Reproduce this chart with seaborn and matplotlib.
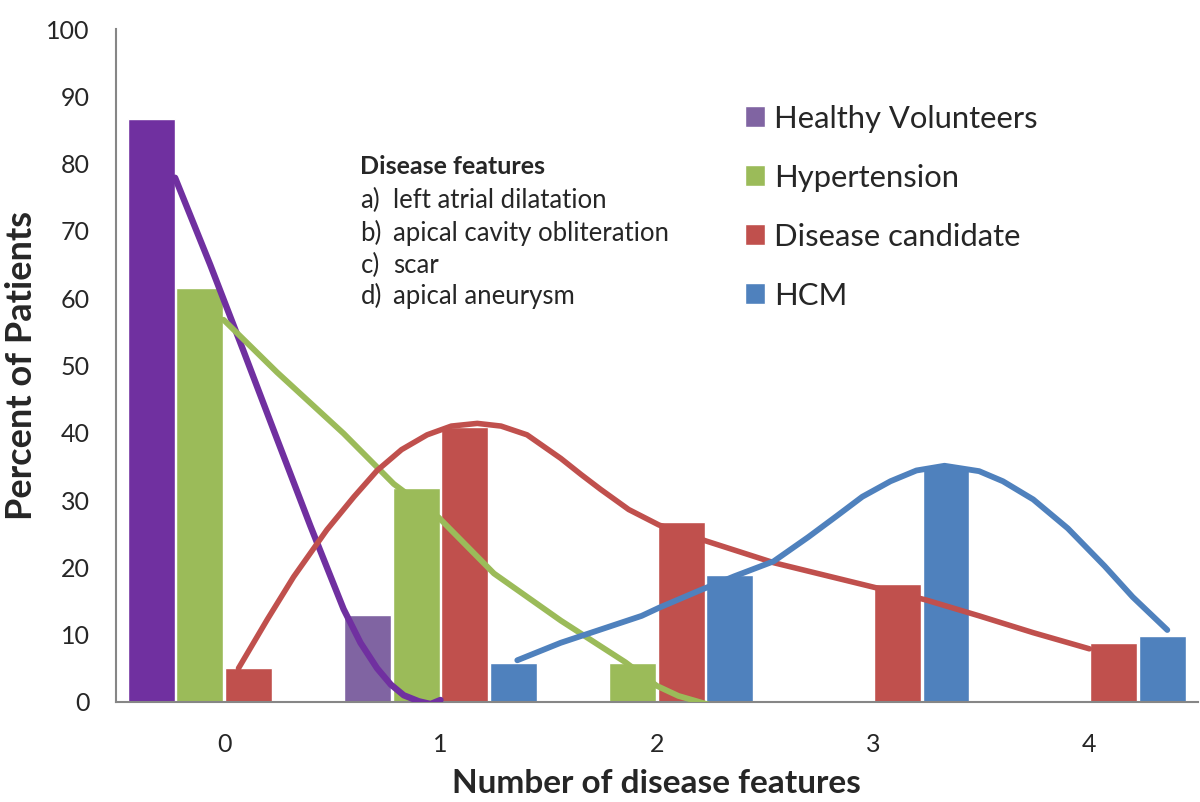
import numpy as np
import pandas as pd
import seaborn as sns
import matplotlib.pyplot as plt
from matplotlib.ticker import FixedLocator

sns.set_style("white")
plt.rcParams['font.family'] = ['Lato', 'DejaVu Sans']

# bar heights (percent of patients)
features = [0, 1, 2, 3, 4]
groups = ["Healthy Volunteers", "Hypertension", "Disease candidate", "HCM"]
healthy = [86.7, 13.0, 0, 0, 0]
hypertension = [61.5, 31.8, 5.8, 0, 0]
candidate = [5.0, 40.8, 26.7, 17.6, 8.8]
hcm = [0, 5.8, 18.8, 35.1, 9.8]

colors = ["#8064A2", "#9BBB59", "#C0504D", "#4F81BD"]
dark_purple = "#7030A0"

# hand drawn trend curves (x in category units)
purple_x = [-0.227, -0.065, 0.09, 0.244, 0.398, 0.552, 0.63, 0.707, 0.77, 0.83, 0.9, 0.954, 1.0]
purple_y = [77.9, 65.0, 52.1, 39.1, 26.2, 13.8, 8.8, 5.0, 2.6, 1.0, 0.1, -0.3, 0.3]
green_x = [-0.003, 0.244, 0.552, 0.784, 0.992, 1.247, 1.556, 1.855, 2.0, 2.1, 2.24]
green_y = [56.8, 49.0, 39.9, 32.4, 27.4, 19.1, 12.1, 5.9, 2.4, 0.9, -0.4]
red_x = [0.066, 0.2, 0.321, 0.475, 0.6, 0.707, 0.82, 0.938, 1.05, 1.17, 1.28, 1.40, 1.556,
         1.65, 1.74, 1.87, 2.01, 2.23, 2.54, 3.01, 3.24, 3.49, 3.74, 4.0]
red_y = [5.0, 12.3, 18.6, 25.6, 30.5, 34.4, 37.5, 39.7, 41.0, 41.4, 41.0, 39.7, 36.2,
         33.8, 31.6, 28.6, 26.3, 23.9, 20.7, 17.0, 15.2, 12.8, 10.3, 7.9]
blue_x = [1.355, 1.556, 1.93, 2.01, 2.2, 2.36, 2.54, 2.7, 2.83, 2.95, 3.08, 3.2, 3.33,
          3.49, 3.6, 3.74, 3.9, 4.07, 4.2, 4.36]
blue_y = [6.2, 8.8, 12.8, 14.0, 16.6, 18.7, 20.9, 24.5, 27.6, 30.5, 32.8, 34.4, 35.1,
          34.3, 32.8, 30.1, 25.8, 20.2, 15.6, 10.7]

df = pd.DataFrame({
    "features": features * 4,
    "group": np.repeat(groups, len(features)),
    "percent": healthy + hypertension + candidate + hcm,
})

fig = plt.figure(figsize=(12, 8.02), dpi=100)
ax = fig.add_axes([0.0967, 0.1247, 0.9013, 0.8391])

sns.barplot(data=df, x="features", y="percent", hue="group", hue_order=groups,
            palette=colors, width=0.9, gap=0.04, errorbar=None, saturation=1,
            ax=ax, zorder=2)

# the healthy volunteers bar at 0 is drawn in a darker purple
ax.containers[0][0].set_facecolor(dark_purple)

line_kw = dict(sort=False, ax=ax, zorder=4, solid_capstyle="round")
sns.lineplot(x=purple_x, y=purple_y, color=dark_purple, linewidth=4.6, **line_kw)
sns.lineplot(x=green_x, y=green_y, color=colors[1], linewidth=4.2, **line_kw)
sns.lineplot(x=red_x, y=red_y, color=colors[2], linewidth=4.0, **line_kw)
sns.lineplot(x=blue_x, y=blue_y, color=colors[3], linewidth=4.2, **line_kw)

ax.set_xlim(-0.5, 4.5)
ax.set_ylim(0, 100)
ax.set_yticks(np.arange(0, 101, 10))
ax.xaxis.set_major_locator(FixedLocator(np.arange(-0.5, 4.6, 1)))
ax.xaxis.set_minor_locator(FixedLocator(features))
ax.set_xticklabels([])
ax.set_xticklabels([str(f) for f in features], minor=True)
ax.tick_params(axis="x", which="major", length=7, width=1.5, color="#868686", direction="out")
ax.tick_params(axis="x", which="minor", length=0, pad=22, labelsize=18, labelcolor="#262626")
ax.tick_params(axis="y", length=7, width=1.5, color="#868686", direction="out",
               pad=12, labelsize=18, labelcolor="#262626")

for side in ["top", "right"]:
    ax.spines[side].set_visible(False)
for side in ["left", "bottom"]:
    ax.spines[side].set_color("#868686")
    ax.spines[side].set_linewidth(1.5)

ax.set_xlabel("Number of disease features", fontsize=24, fontweight="bold", labelpad=10)
ax.set_ylabel("Percent of Patients", fontsize=26, fontweight="bold", labelpad=6)

# feature key
ax.text(0.63, 79.6, "Disease features", fontsize=18, fontweight="bold", va="center", ha="left")
keys = ["a)", "b)", "c)", "d)"]
key_text = ["left atrial dilatation", "apical cavity obliteration", "scar", "apical aneurysm"]
key_y = [74.5, 69.6, 64.8, 60.3]
for k, t, yy in zip(keys, key_text, key_y):
    ax.text(0.63, yy, k, fontsize=18.5, va="center", ha="left")
    ax.text(0.78, yy, t, fontsize=18.5, va="center", ha="left")

sns.move_legend(ax, loc="upper left", bbox_to_anchor=(0.57, 0.906), frameon=False, title=None,
                fontsize=22.3, handlelength=0.65, handleheight=0.65, handletextpad=0.3,
                labelspacing=1.0, borderaxespad=0)

fig.savefig("out.png", dpi=100)
